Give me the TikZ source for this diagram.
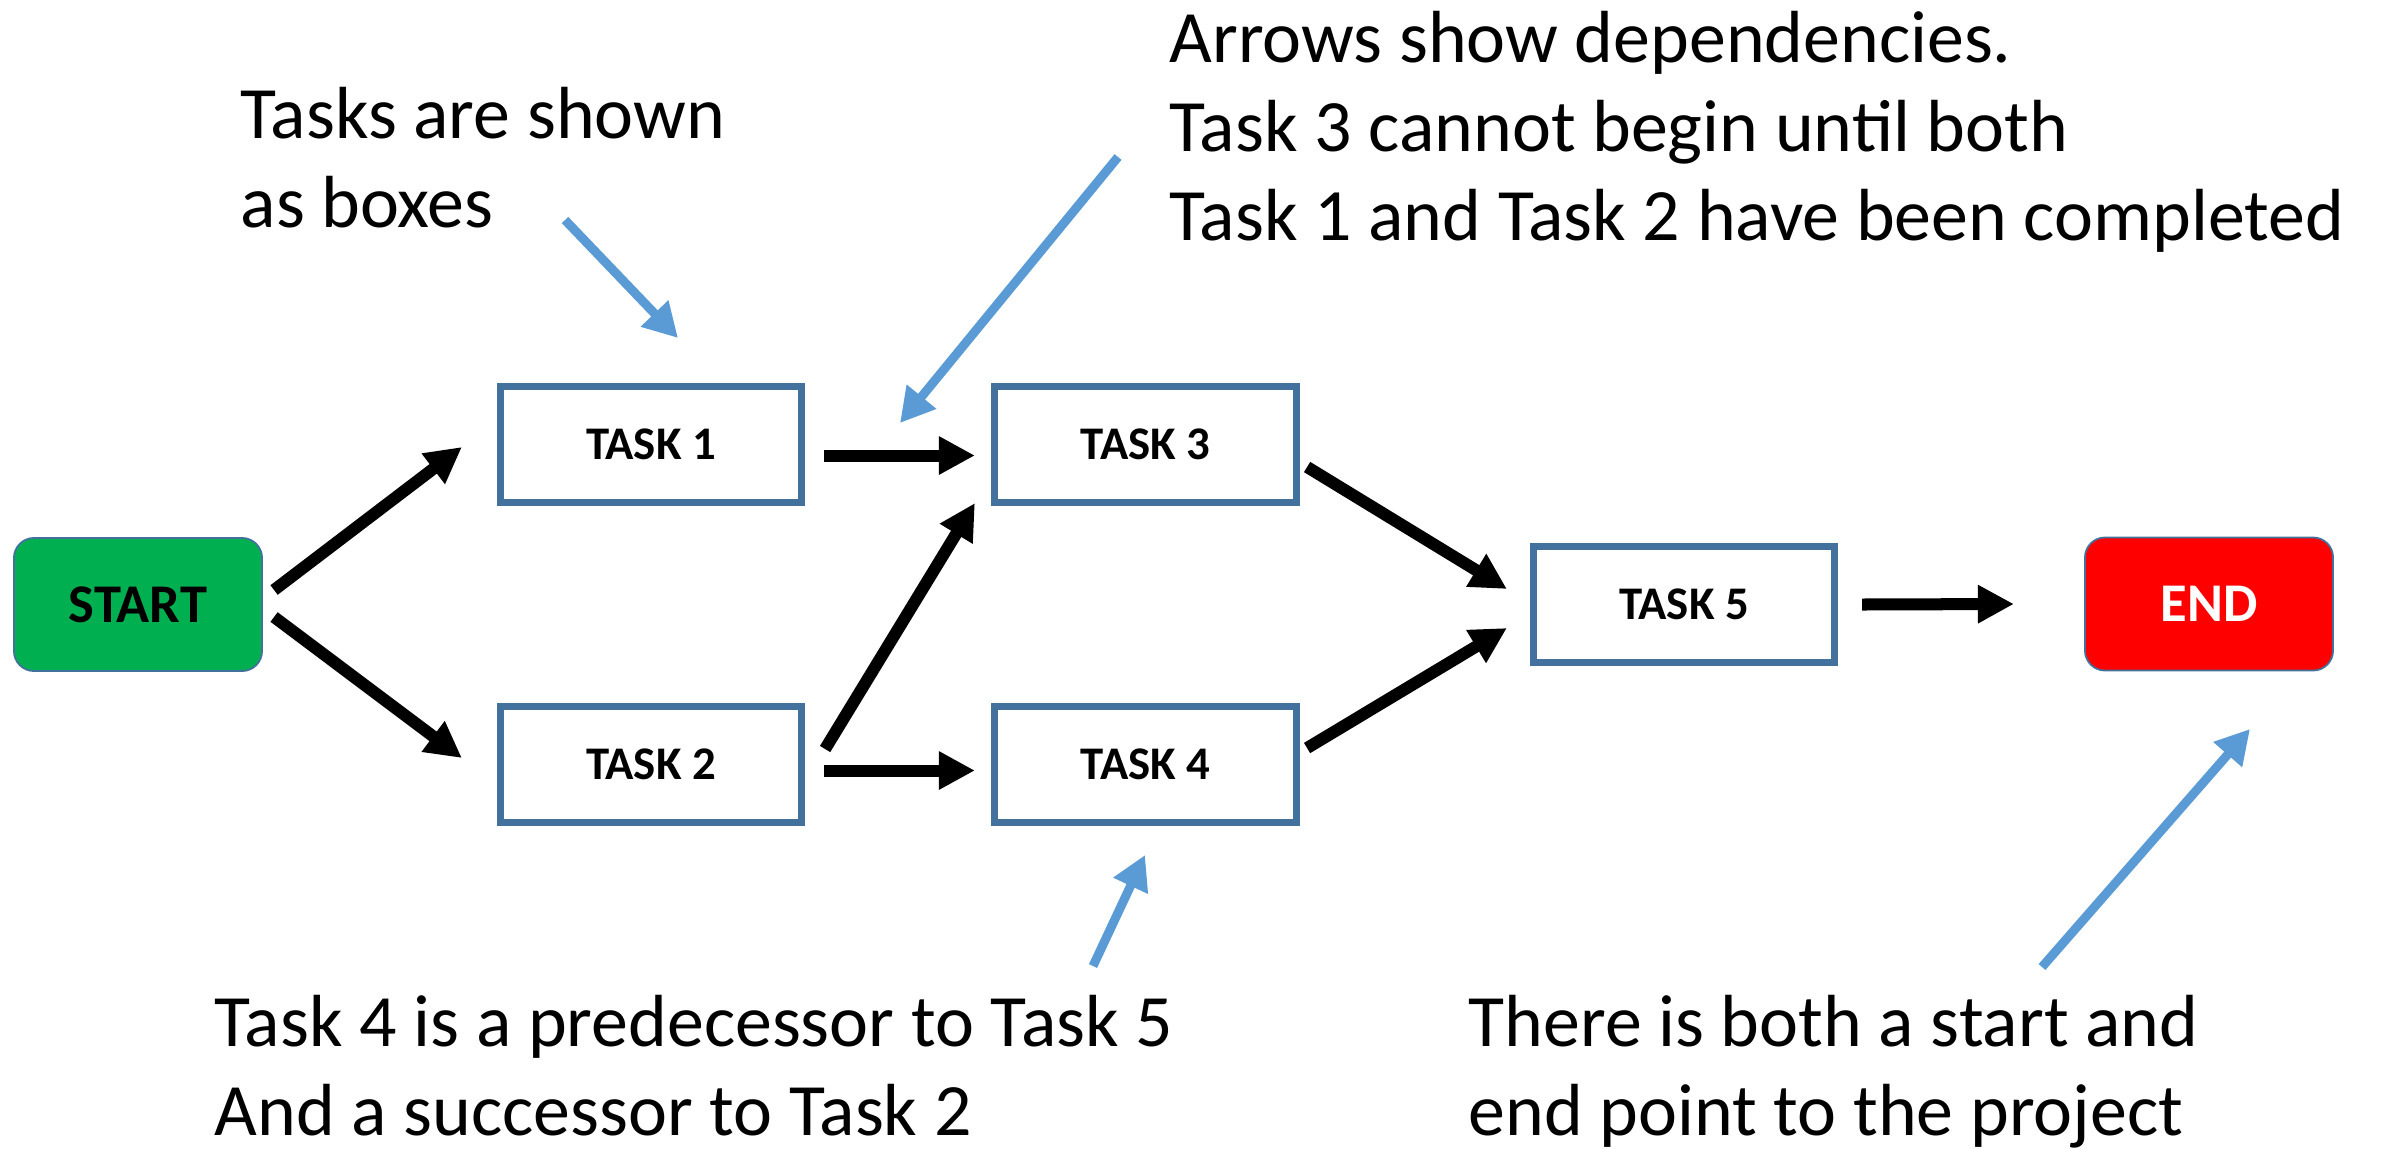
\documentclass[tikz,border=0pt]{standalone}
\usepackage{fontspec}
\setmainfont{Carlito}
\usetikzlibrary{arrows.meta}

\begin{document}
\begin{tikzpicture}[x=0.01cm,y=-0.01cm]
	% Define colors
	\definecolor{taskblue}{RGB}{65,113,156}
	\definecolor{startgreen}{RGB}{0,176,80}
	\definecolor{endred}{RGB}{255,0,0}
	\definecolor{noteblue}{RGB}{91,155,213}

	% Styles
	\tikzstyle{task_box} = [draw=taskblue, line width=2pt, fill=white, minimum width=3.01cm, minimum height=1.16cm, inner sep=0pt, outer sep=0pt, font=\fontsize{13.3}{16}\selectfont\bfseries]
	\tikzstyle{term_box} = [draw=taskblue, line width=0.5pt, rounded corners=0.2cm, minimum width=2.48cm, minimum height=1.33cm, inner sep=0pt, outer sep=0pt, font=\fontsize{15.5}{18}\selectfont\bfseries]
	\tikzstyle{dep_arrow} = [-{Triangle[length=0.36cm,width=0.36cm]}, line width=0.12cm, black]
	\tikzstyle{note_arrow} = [-{Triangle[length=0.34cm,width=0.36cm]}, line width=0.09cm, noteblue]
	\tikzstyle{note} = [anchor=base west, inner sep=0pt, align=left, font=\fontsize{21}{25.3}\selectfont]

	\useasboundingbox (0,0) rectangle (2382,1148);

	% Start and end points
	\node[term_box, fill=startgreen] (start) at (138,604.5) {START};
	\node[term_box, fill=endred, text=white] (end) at (2209,604) {END};

	% Tasks
	\node[task_box] (task1) at (651,444.5) {TASK 1};
	\node[task_box] (task2) at (651,764.5) {TASK 2};
	\node[task_box] (task3) at (1145.5,444.5) {TASK 3};
	\node[task_box] (task4) at (1145.5,764.5) {TASK 4};
	\node[task_box] (task5) at (1684,604.5) {TASK 5};

	% Dependencies
	\draw[dep_arrow] ([shift={(12,-14.5)}]start.east) -- ([shift={(-38.5,2.5)}]task1.west);
	\draw[dep_arrow] ([shift={(12,12.5)}]start.east) -- ([shift={(-38.5,-6.5)}]task2.west);
	\draw[dep_arrow] ([shift={(22.5,11)}]task1.east) -- ([shift={(-20,11)}]task3.west);
	\draw[dep_arrow] ([shift={(22.5,6)}]task2.east) -- ([shift={(-20,6)}]task4.west);
	\draw[dep_arrow] ([shift={(23.5,-15.5)}]task2.east) -- ([shift={(-20,0.5)}]task3.south west);
	\draw[dep_arrow] ([shift={(11,22.5)}]task3.east) -- ([shift={(-26.5,-15.5)}]task5.west);
	\draw[dep_arrow] ([shift={(11,-16.5)}]task4.east) -- ([shift={(-26.5,23.5)}]task5.west);
	\draw[dep_arrow] ([shift={(27.5,0)}]task5.east) -- ([shift={(-71,0)}]end.west);

	% Notes (anchored at the baseline of the last line)
	\node[note] (boxes_note) at (240,227) {Tasks are shown\\as boxes};
	\node[note] (deps_note) at (1169,240) {Arrows show dependencies.\\Task 3 cannot begin until both\\Task 1 and Task 2 have been completed};
	\node[note] (pred_note) at (214,1135) {Task 4 is a predecessor to Task 5\\And a successor to Task 2};
	\node[note] (ends_note) at (1468,1135) {There is both a start and\\end point to the project};

	% Pointers from the notes
	\coordinate (boxes_tail) at (565,220);
	\coordinate (boxes_tip) at (678,338);
	\coordinate (deps_tail) at (1118,157);
	\coordinate (deps_tip) at (900,423);
	\coordinate (pred_tail) at (1093,966);
	\coordinate (pred_tip) at (1145,855);
	\coordinate (ends_tail) at (2042,967);
	\coordinate (ends_tip) at (2250,729);
	\draw[note_arrow] (boxes_tail) -- (boxes_tip);
	\draw[note_arrow] (deps_tail) -- (deps_tip);
	\draw[note_arrow] (pred_tail) -- (pred_tip);
	\draw[note_arrow] (ends_tail) -- (ends_tip);

\end{tikzpicture}
\end{document}
